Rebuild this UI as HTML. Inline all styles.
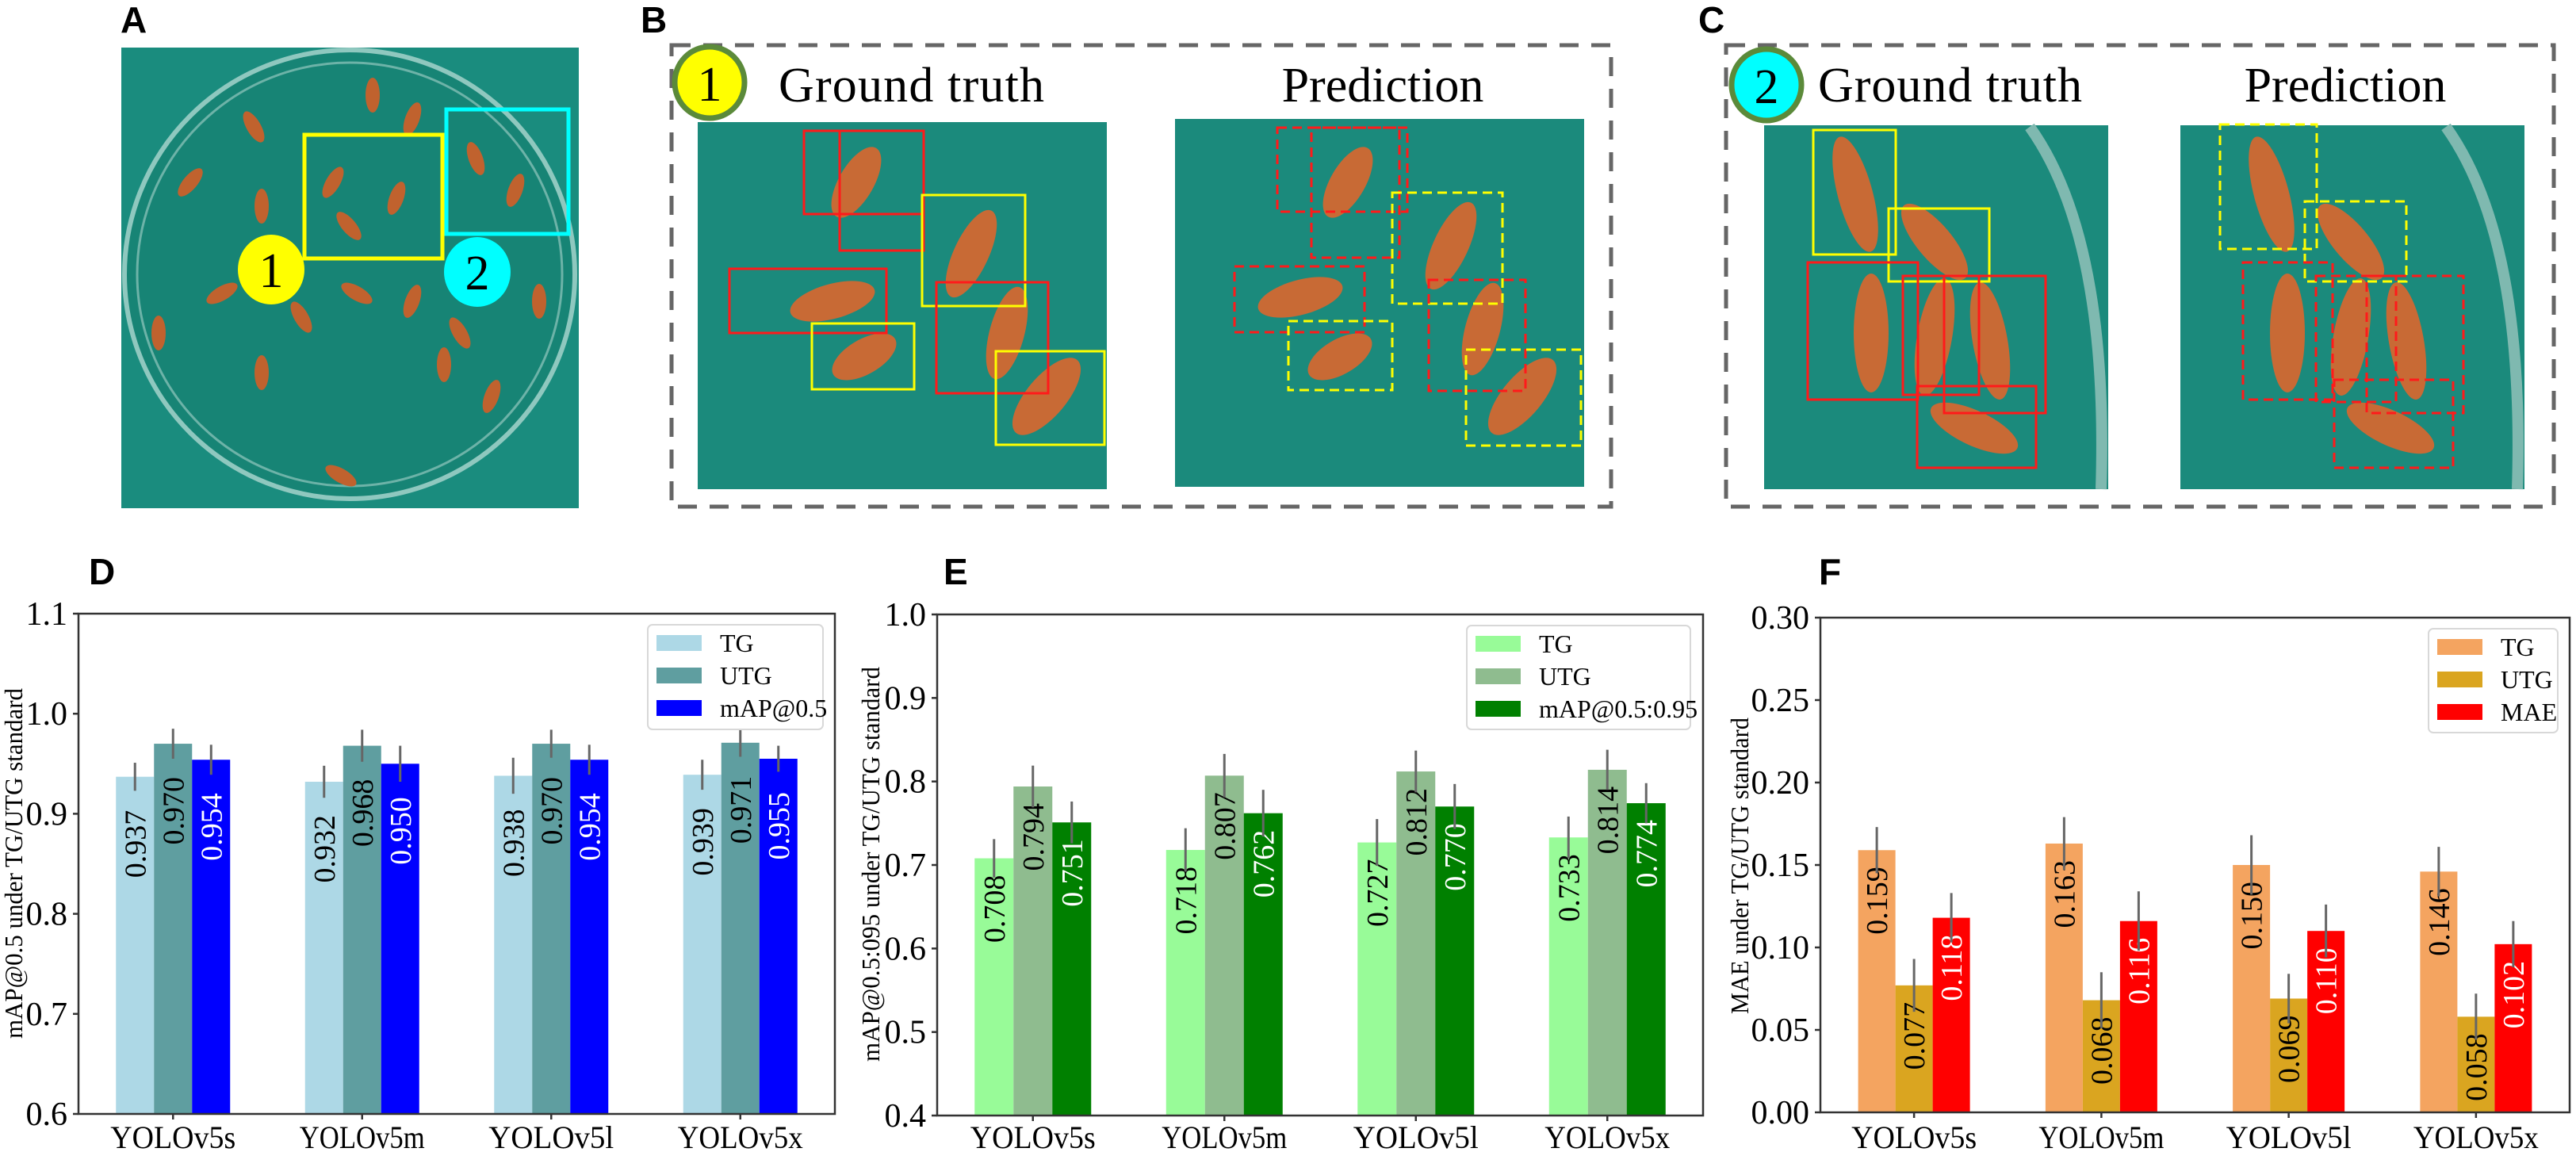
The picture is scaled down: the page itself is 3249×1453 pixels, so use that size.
<!DOCTYPE html>
<html><head><meta charset="utf-8">
<style>
html,body{margin:0;padding:0;background:#fff;}
svg{display:block;}
.lt{font-family:"Liberation Sans",Arial,sans-serif;font-weight:bold;font-size:46px;}
.sf{font-family:"Liberation Serif","Times New Roman",serif;}
</style></head>
<body>
<svg id="fig" width="3249" height="1453" viewBox="0 0 3249 1453" xmlns="http://www.w3.org/2000/svg">
  <text class="lt" x="152" y="41">A</text>
  <text class="lt" x="808" y="41">B</text>
  <text class="lt" x="2142" y="41">C</text>
  <text class="lt" x="112" y="737">D</text>
  <text class="lt" x="1190" y="737">E</text>
  <text class="lt" x="2294" y="737">F</text>

  <g>
    <rect x="153" y="60" width="577" height="581" fill="#1a8c7e"/>
    <ellipse cx="441" cy="346" rx="284" ry="283" fill="#178475" stroke="#8fc8bf" stroke-width="6"/>
    <ellipse cx="441" cy="346" rx="268" ry="267" fill="none" stroke="#6db3a8" stroke-width="3"/>
    <g fill="#c0622e">
      <ellipse cx="320" cy="160" rx="9" ry="22" transform="rotate(-30 320 160)"/>
      <ellipse cx="470" cy="120" rx="9" ry="22"/>
      <ellipse cx="520" cy="150" rx="9" ry="22" transform="rotate(20 520 150)"/>
      <ellipse cx="240" cy="230" rx="9" ry="22" transform="rotate(40 240 230)"/>
      <ellipse cx="330" cy="260" rx="9" ry="22"/>
      <ellipse cx="420" cy="230" rx="9" ry="22" transform="rotate(30 420 230)"/>
      <ellipse cx="500" cy="250" rx="9" ry="22" transform="rotate(20 500 250)"/>
      <ellipse cx="440" cy="285" rx="9" ry="22" transform="rotate(-40 440 285)"/>
      <ellipse cx="600" cy="200" rx="9" ry="22" transform="rotate(-20 600 200)"/>
      <ellipse cx="650" cy="240" rx="9" ry="22" transform="rotate(20 650 240)"/>
      <ellipse cx="280" cy="370" rx="9" ry="22" transform="rotate(60 280 370)"/>
      <ellipse cx="380" cy="400" rx="9" ry="22" transform="rotate(-30 380 400)"/>
      <ellipse cx="450" cy="370" rx="9" ry="22" transform="rotate(-60 450 370)"/>
      <ellipse cx="520" cy="380" rx="9" ry="22" transform="rotate(20 520 380)"/>
      <ellipse cx="330" cy="470" rx="9" ry="22"/>
      <ellipse cx="560" cy="460" rx="9" ry="22"/>
      <ellipse cx="620" cy="500" rx="9" ry="22" transform="rotate(20 620 500)"/>
      <ellipse cx="200" cy="420" rx="9" ry="22"/>
      <ellipse cx="580" cy="420" rx="9" ry="22" transform="rotate(-30 580 420)"/>
      <ellipse cx="430" cy="600" rx="9" ry="22" transform="rotate(-60 430 600)"/>
      <ellipse cx="680" cy="380" rx="9" ry="22"/>
    </g>
    <rect x="384" y="170" width="174" height="156" fill="none" stroke="#ffff00" stroke-width="5"/>
    <rect x="563" y="138" width="154" height="157" fill="none" stroke="#00ffff" stroke-width="5"/>
    <ellipse cx="342" cy="340" rx="42" ry="44" fill="#ffff00"/>
    <text class="sf" font-family="Liberation Serif, serif" x="342" y="362" font-size="62" text-anchor="middle" fill="#000">1</text>
    <ellipse cx="602" cy="343" rx="42" ry="44" fill="#00ffff"/>
    <text class="sf" font-family="Liberation Serif, serif" x="602" y="365" font-size="62" text-anchor="middle" fill="#000">2</text>
  </g>

  <g>
    <rect x="847" y="57" width="1185" height="582" fill="none" stroke="#666" stroke-width="5" stroke-dasharray="24 16"/>
    <ellipse cx="895" cy="104" rx="44" ry="45" fill="#ffff00" stroke="#5b8a3a" stroke-width="7"/>
    <text font-family="Liberation Serif, serif" x="895" y="127" font-size="62" text-anchor="middle">1</text>
    <text font-family="Liberation Serif, serif" x="982" y="128" font-size="62" textLength="335">Ground truth</text>
    <text font-family="Liberation Serif, serif" x="1744" y="128" font-size="62" text-anchor="middle">Prediction</text>
    <rect x="880" y="154" width="516" height="463" fill="#1b8a7c"/>
    <rect x="1482" y="150" width="516" height="464" fill="#1b8a7c"/>
    <g fill="#c86a35">
      <ellipse cx="1080" cy="230" rx="22" ry="50" transform="rotate(30 1080 230)"/>
      <ellipse cx="1225" cy="320" rx="22" ry="60" transform="rotate(25 1225 320)"/>
      <ellipse cx="1050" cy="380" rx="55" ry="22" transform="rotate(-15 1050 380)"/>
      <ellipse cx="1090" cy="450" rx="45" ry="22" transform="rotate(-30 1090 450)"/>
      <ellipse cx="1270" cy="420" rx="22" ry="60" transform="rotate(15 1270 420)"/>
      <ellipse cx="1320" cy="500" rx="25" ry="60" transform="rotate(40 1320 500)"/>
      <ellipse cx="1700" cy="230" rx="22" ry="50" transform="rotate(30 1700 230)"/>
      <ellipse cx="1830" cy="310" rx="22" ry="60" transform="rotate(25 1830 310)"/>
      <ellipse cx="1640" cy="375" rx="55" ry="22" transform="rotate(-15 1640 375)"/>
      <ellipse cx="1690" cy="450" rx="45" ry="22" transform="rotate(-30 1690 450)"/>
      <ellipse cx="1870" cy="415" rx="22" ry="60" transform="rotate(15 1870 415)"/>
      <ellipse cx="1920" cy="500" rx="25" ry="60" transform="rotate(40 1920 500)"/>
    </g>
    <g fill="none" stroke-width="3">
      <rect x="1014" y="165" width="151" height="105" stroke="#ff1a1a"/>
      <rect x="1059" y="165" width="106" height="151" stroke="#ff1a1a"/>
      <rect x="920" y="339" width="198" height="81" stroke="#ff1a1a"/>
      <rect x="1024" y="408" width="129" height="83" stroke="#ffff00"/>
      <rect x="1163" y="246" width="130" height="140" stroke="#ffff00"/>
      <rect x="1181" y="356" width="141" height="140" stroke="#ff1a1a"/>
      <rect x="1256" y="443" width="137" height="118" stroke="#ffff00"/>
    </g>
    <g fill="none" stroke-width="3" stroke-dasharray="12 7">
      <rect x="1611" y="161" width="164" height="106" stroke="#ff1a1a"/>
      <rect x="1654" y="161" width="111" height="164" stroke="#ff1a1a"/>
      <rect x="1756" y="243" width="139" height="140" stroke="#ffff00"/>
      <rect x="1557" y="336" width="164" height="83" stroke="#ff1a1a"/>
      <rect x="1625" y="405" width="131" height="87" stroke="#ffff00"/>
      <rect x="1802" y="353" width="122" height="140" stroke="#ff1a1a"/>
      <rect x="1849" y="441" width="145" height="121" stroke="#ffff00"/>
    </g>
  </g>

  <g>
    <rect x="2177" y="57" width="1044" height="582" fill="none" stroke="#666" stroke-width="5" stroke-dasharray="24 16"/>
    <ellipse cx="2228" cy="107" rx="44" ry="45" fill="#00ffff" stroke="#5b8a3a" stroke-width="7"/>
    <text font-family="Liberation Serif, serif" x="2228" y="130" font-size="62" text-anchor="middle">2</text>
    <text font-family="Liberation Serif, serif" x="2293" y="128" font-size="62" textLength="333">Ground truth</text>
    <text font-family="Liberation Serif, serif" x="2958" y="128" font-size="62" text-anchor="middle">Prediction</text>
    <rect x="2225" y="158" width="434" height="459" fill="#1b8a7c"/>
    <rect x="2750" y="158" width="434" height="459" fill="#1b8a7c"/>
    <path d="M2560 160 Q2660 300 2650 617" fill="none" stroke="#7fb9b0" stroke-width="14"/>
    <path d="M3085 160 Q3185 300 3175 617" fill="none" stroke="#7fb9b0" stroke-width="14"/>
    <g fill="#c86a35">
      <ellipse cx="2340" cy="245" rx="22" ry="75" transform="rotate(-15 2340 245)"/>
      <ellipse cx="2440" cy="305" rx="22" ry="60" transform="rotate(-40 2440 305)"/>
      <ellipse cx="2360" cy="420" rx="22" ry="75"/>
      <ellipse cx="2440" cy="425" rx="22" ry="75" transform="rotate(10 2440 425)"/>
      <ellipse cx="2510" cy="430" rx="22" ry="75" transform="rotate(-10 2510 430)"/>
      <ellipse cx="2490" cy="540" rx="60" ry="22" transform="rotate(25 2490 540)"/>
      <ellipse cx="2865" cy="245" rx="22" ry="75" transform="rotate(-15 2865 245)"/>
      <ellipse cx="2965" cy="305" rx="22" ry="60" transform="rotate(-40 2965 305)"/>
      <ellipse cx="2885" cy="420" rx="22" ry="75"/>
      <ellipse cx="2965" cy="425" rx="22" ry="75" transform="rotate(10 2965 425)"/>
      <ellipse cx="3035" cy="430" rx="22" ry="75" transform="rotate(-10 3035 430)"/>
      <ellipse cx="3015" cy="540" rx="60" ry="22" transform="rotate(25 3015 540)"/>
    </g>
    <g fill="none" stroke-width="3">
      <rect x="2287" y="164" width="104" height="157" stroke="#ffff00"/>
      <rect x="2382" y="263" width="127" height="92" stroke="#ffff00"/>
      <rect x="2280" y="331" width="139" height="173" stroke="#ff1a1a"/>
      <rect x="2400" y="348" width="96" height="150" stroke="#ff1a1a"/>
      <rect x="2452" y="348" width="128" height="173" stroke="#ff1a1a"/>
      <rect x="2418" y="487" width="150" height="103" stroke="#ff1a1a"/>
    </g>
    <g fill="none" stroke-width="3" stroke-dasharray="12 7">
      <rect x="2800" y="157" width="122" height="157" stroke="#ffff00"/>
      <rect x="2907" y="254" width="128" height="101" stroke="#ffff00"/>
      <rect x="2829" y="331" width="113" height="173" stroke="#ff1a1a"/>
      <rect x="2921" y="348" width="101" height="159" stroke="#ff1a1a"/>
      <rect x="2985" y="348" width="122" height="173" stroke="#ff1a1a"/>
      <rect x="2944" y="479" width="150" height="111" stroke="#ff1a1a"/>
    </g>
  </g>

  <g id="charts"></g>
</svg>

<script>
const categories = ["YOLOv5s", "YOLOv5m", "YOLOv5l", "YOLOv5x"];

const dTG  = [0.937, 0.932, 0.938, 0.939];
const dUTG = [0.970, 0.968, 0.970, 0.971];
const dMAP = [0.954, 0.950, 0.954, 0.955];
const dErrTG  = [0.014, 0.016, 0.018, 0.015];
const dErrUTG = [0.015, 0.016, 0.014, 0.014];
const dErrMAP = [0.015, 0.018, 0.015, 0.013];
const dTicks = [0.6, 0.7, 0.8, 0.9, 1.0, 1.1];
const dTickLabels = ["0.6", "0.7", "0.8", "0.9", "1.0", "1.1"];
const dLegend = ["TG", "UTG", "mAP@0.5"];

const eTG  = [0.708, 0.718, 0.727, 0.733];
const eUTG = [0.794, 0.807, 0.812, 0.814];
const eMAP = [0.751, 0.762, 0.770, 0.774];
const eErrTG  = [0.023, 0.026, 0.028, 0.025];
const eErrUTG = [0.025, 0.026, 0.025, 0.024];
const eErrMAP = [0.025, 0.028, 0.027, 0.024];
const eTicks = [0.4, 0.5, 0.6, 0.7, 0.8, 0.9, 1.0];
const eTickLabels = ["0.4", "0.5", "0.6", "0.7", "0.8", "0.9", "1.0"];
const eLegend = ["TG", "UTG", "mAP@0.5:0.95"];

const fTG  = [0.159, 0.163, 0.150, 0.146];
const fUTG = [0.077, 0.068, 0.069, 0.058];
const fMAE = [0.118, 0.116, 0.110, 0.102];
const fErrTG  = [0.014, 0.016, 0.018, 0.015];
const fErrUTG = [0.016, 0.017, 0.015, 0.014];
const fErrMAE = [0.015, 0.018, 0.016, 0.014];
const fTicks = [0.00, 0.05, 0.10, 0.15, 0.20, 0.25, 0.30];
const fTickLabels = ["0.00", "0.05", "0.10", "0.15", "0.20", "0.25", "0.30"];
const fLegend = ["TG", "UTG", "MAE"];

const NS = "http://www.w3.org/2000/svg";
const SERIF = "Liberation Serif, Times New Roman, serif";
function mk(tag, attrs, parent) {
  const el = document.createElementNS(NS, tag);
  for (const k in attrs) el.setAttribute(k, attrs[k]);
  if (tag === "text") el.setAttribute("font-family", SERIF);
  parent.appendChild(el);
  return el;
}
const root = document.getElementById("charts");

function drawChart(cfg) {
  const g = mk("g", {}, root);
  
  
  const L = cfg.left, R = cfg.right, T = cfg.top, B = cfg.bottom;
  const ymin = cfg.ticks[0], ymax = cfg.ticks[cfg.ticks.length - 1];
  const yS = v => B - (v - ymin) / (ymax - ymin) * (B - T);
  const step = (R - L) / categories.length;
  const xS = i => L + step * (i + 0.5);
  const bw = cfg.bw;

  cfg.series.forEach((vals, s) => {
    vals.forEach((v, i) => {
      const cx = xS(i) + (s - 1) * bw;
      const r = mk("rect", {x: cx - bw / 2, y: yS(v), width: bw, height: B - yS(v), fill: cfg.colors[s]}, g);
      
      
    });
  });
  cfg.series.forEach((vals, s) => {
    vals.forEach((v, i) => {
      const cx = xS(i) + (s - 1) * bw;
      const ty = yS(v) + cfg.lblOff;
      const t = mk("text", {x: 0, y: 0, transform: "translate(" + (cx + 13) + "," + ty + ") rotate(-90)", "text-anchor": "end", "font-size": 38, fill: s === 2 ? "#fff" : "#000"}, g);
      t.textContent = v.toFixed(3);
      
      
    });
  });
  cfg.series.forEach((vals, s) => {
    vals.forEach((v, i) => {
      const cx = xS(i) + (s - 1) * bw;
      const e = cfg.errs[s][i];
      const ln = mk("line", {x1: cx, x2: cx, y1: yS(v - e), y2: yS(v + e), stroke: "#666", "stroke-width": 3}, g);
      
      
    });
  });
  const fr = mk("rect", {x: L, y: T, width: R - L, height: B - T, fill: "none", stroke: "#333", "stroke-width": 2.5}, g);
  
  
  cfg.ticks.forEach((tv, k) => {
    const y = yS(tv);
    mk("line", {x1: L - 7, x2: L, y1: y, y2: y, stroke: "#333", "stroke-width": 2.5}, g);
    const t = mk("text", {x: L - 14, y: y + 14, "text-anchor": "end", "font-size": 42}, g);
    t.textContent = cfg.tickLabels[k];
    
    
  });
  categories.forEach((c, i) => {
    const x = xS(i);
    mk("line", {x1: x, x2: x, y1: B, y2: B + 7, stroke: "#333", "stroke-width": 2.5}, g);
    const t = mk("text", {x: x, y: 1448, "text-anchor": "middle", "font-size": 40, textLength: 158, lengthAdjust: "spacingAndGlyphs"}, g);
    t.textContent = c;
    
    
  });
  const yt = mk("text", {x: 0, y: 0, transform: "translate(" + (cfg.ytX + 10) + "," + cfg.ytY + ") rotate(-90)", "text-anchor": "middle", "font-size": 32, textLength: cfg.ytLen, lengthAdjust: "spacingAndGlyphs"}, g);
  yt.textContent = cfg.ytitle;
  
  
  const lg = mk("g", {}, g);
  
  
  mk("rect", {x: cfg.leg[0], y: cfg.leg[1], width: cfg.leg[2], height: cfg.leg[3], rx: 6, fill: "#fff", stroke: "#d8d8d8", "stroke-width": 2}, lg);
  cfg.legend.forEach((name, s) => {
    const ry = cfg.leg[1] + 23 + s * 41;
    mk("rect", {x: cfg.leg[0] + 11, y: ry - 10, width: 57, height: 20, fill: cfg.colors[s]}, lg);
    const t = mk("text", {x: cfg.leg[0] + 91, y: ry + 11, "font-size": 32}, lg);
    t.textContent = name;
    
    
  });
}

drawChart({name: "chart-d-map05", left: 99, right: 1053, top: 774, bottom: 1405, bw: 48,
  ticks: dTicks, tickLabels: dTickLabels, series: [dTG, dUTG, dMAP], errs: [dErrTG, dErrUTG, dErrMAP],
  colors: ["#add8e6", "#5f9ea0", "#0000ff"], legend: dLegend, lblOff: 42,
  ytitle: "mAP@0.5 under TG/UTG standard", ytX: 18, ytY: 1089, ytLen: 442, leg: [817, 788, 221, 132]});

drawChart({name: "chart-e-map0595", left: 1182, right: 2148, top: 775, bottom: 1407, bw: 49,
  ticks: eTicks, tickLabels: eTickLabels, series: [eTG, eUTG, eMAP], errs: [eErrTG, eErrUTG, eErrMAP],
  colors: ["#98fb98", "#8fbc8f", "#008000"], legend: eLegend, lblOff: 21,
  ytitle: "mAP@0.5:095 under TG/UTG standard", ytX: 1099, ytY: 1090, ytLen: 498, leg: [1850, 789, 282, 131]});

drawChart({name: "chart-f-mae", left: 2296, right: 3241, top: 779, bottom: 1403, bw: 47,
  ticks: fTicks, tickLabels: fTickLabels, series: [fTG, fUTG, fMAE], errs: [fErrTG, fErrUTG, fErrMAE],
  colors: ["#f4a460", "#daa520", "#ff0000"], legend: fLegend, lblOff: 21,
  ytitle: "MAE under TG/UTG standard", ytX: 2195, ytY: 1092, ytLen: 374, leg: [3063, 793, 163, 131]});
</script>
</body></html>
